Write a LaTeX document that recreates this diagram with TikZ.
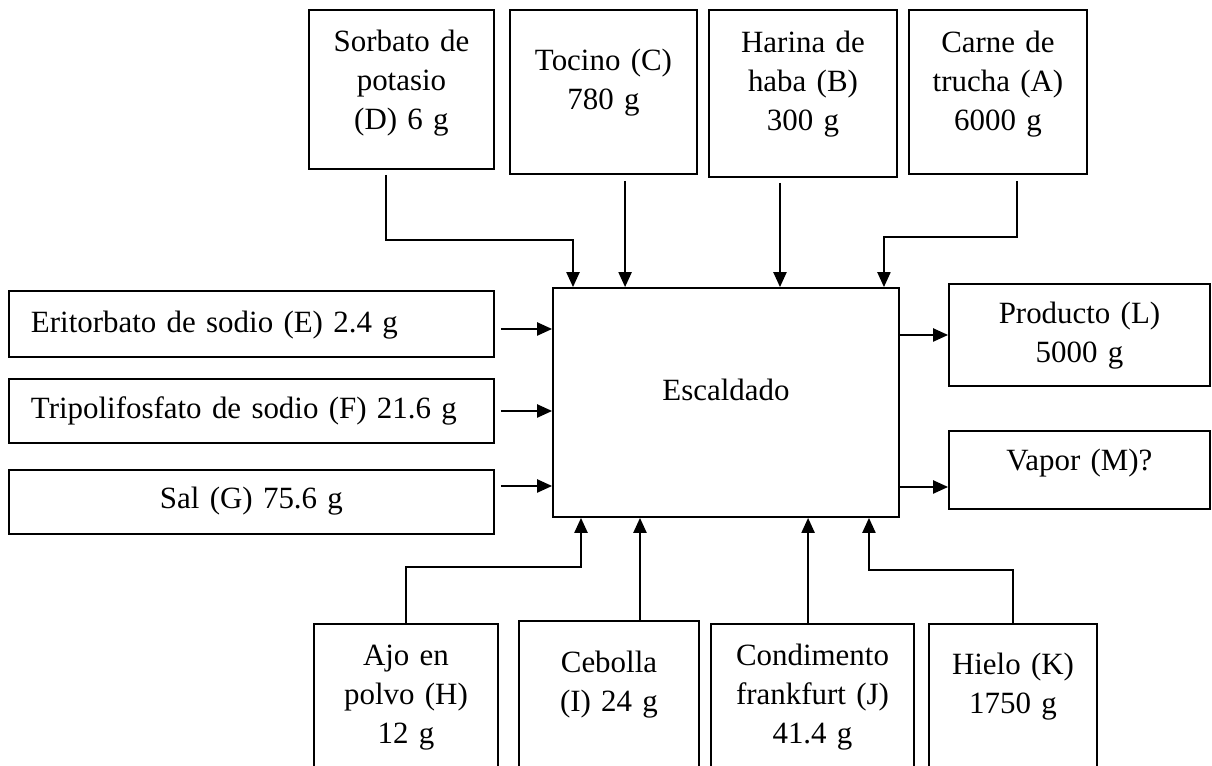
\documentclass[tikz,border=0pt]{standalone}
\usepackage{fontspec}
\setmainfont{Liberation Serif}
\usetikzlibrary{arrows.meta}

\begin{document}
\begin{tikzpicture}[
    font=\fontsize{22}{27.5}\selectfont
]
\tikzset{
    caja/.style = {draw=black, line width=1.4pt, inner xsep=0pt, inner ysep=0pt, anchor=north west, align=center},
    cajal/.style = {caja, inner xsep=0.55cm, text width=11.025cm},
    flecha/.style = {-{Triangle[length=0.37cm,width=0.33cm]}, line width=0.9pt}
}
\useasboundingbox (0,0) rectangle (30.3,-19.125);
\clip (0,0) rectangle (30.3,-19.125);
% proceso central
\node[caja, text width=8.65cm, text height=2.825cm, text depth=2.9cm] at (13.8,-7.175) (esc) {Escaldado};
% entradas de arriba
\node[caja, text width=4.625cm, text height=1.05cm, text depth=2.925cm] at (7.7,-0.225) (sorbato) {Sorbato de\\potasio\\(D) 6 g};
\node[caja, text width=4.675cm, text height=1.525cm, text depth=2.575cm] at (12.725,-0.225) (tocino) {Tocino (C)\\780 g};
\node[caja, text width=4.7cm, text height=1.075cm, text depth=3.1cm] at (17.7,-0.225) (harina) {Harina de\\haba (B)\\300 g};
\node[caja, text width=4.45cm, text height=1.075cm, text depth=3.025cm] at (22.7,-0.225) (carne) {Carne de\\trucha (A)\\6000 g};
% entradas de la izquierda
\node[cajal, align=left, text height=1.05cm, text depth=0.6cm] at (0.2,-7.25) (eritorbato) {Eritorbato de sodio (E) 2.4 g};
\node[cajal, align=left, text height=1.0cm, text depth=0.6cm] at (0.2,-9.45) (tripoli) {Tripolifosfato de sodio (F) 21.6 g};
\node[cajal, text height=0.975cm, text depth=0.625cm] at (0.2,-11.725) (sal) {Sal (G) 75.6 g};
% salidas
\node[caja, text width=6.525cm, text height=1.0cm, text depth=1.55cm] at (23.7,-7.075) (producto) {Producto (L)\\5000 g};
\node[caja, text width=6.525cm, text height=1.0cm, text depth=0.95cm] at (23.7,-10.75) (vapor) {Vapor (M)?};
% entradas de abajo
\node[caja, text width=4.6cm, text height=1.05cm, text depth=2.525cm] at (7.825,-15.575) (ajo) {Ajo en\\polvo (H)\\12 g};
\node[caja, text width=4.5cm, text height=1.3cm, text depth=2.35cm] at (12.95,-15.5) (cebolla) {Cebolla\\(I) 24 g};
\node[caja, text width=5.075cm, text height=1.05cm, text depth=2.525cm] at (17.75,-15.575) (condimento) {Condimento\\frankfurt (J)\\41.4 g};
\node[caja, text width=4.2cm, text height=1.275cm, text depth=2.3cm] at (23.2,-15.575) (hielo) {Hielo (K)\\1750 g};
% flechas de arriba
\draw[flecha] ([xshift=-0.39cm,yshift=-0.125cm]sorbato.south) -- ++(0,-1.625) -| ([xshift=0.525cm]esc.north west);
\draw[flecha] ([xshift=0.54cm,yshift=-0.15cm]tocino.south) coordinate (c0) -- (c0 |- esc.north);
\draw[flecha] ([xshift=-0.575cm,yshift=-0.125cm]harina.south) coordinate (b0) -- (b0 |- esc.north);
\draw[flecha] ([xshift=0.475cm,yshift=-0.15cm]carne.south) -- ++(0,-1.4) -| ([xshift=-0.4cm]esc.north east);
% flechas de la izquierda
\draw[flecha] ([xshift=0.15cm,yshift=-0.125cm]eritorbato.east) coordinate (e0) -- (e0 -| esc.west);
\draw[flecha] ([xshift=0.15cm]tripoli.east) coordinate (f0) -- (f0 -| esc.west);
\draw[flecha] ([xshift=0.15cm,yshift=0.4cm]sal.east) coordinate (g0) -- (g0 -| esc.west);
% salidas
\draw[flecha] (producto.west -| esc.east) -- (producto.west);
\coordinate (m0) at ([yshift=-0.425cm]vapor.west);
\draw[flecha] (m0 -| esc.east) -- (m0);
% flechas de abajo
\draw[flecha] (ajo.north) -- ++(0,1.4) -| ([xshift=0.725cm]esc.south west);
\draw[flecha] ([xshift=0.775cm]cebolla.north) coordinate (i0) -- (i0 |- esc.south);
\draw[flecha] ([xshift=-0.11cm]condimento.north) coordinate (j0) -- (j0 |- esc.south);
\draw[flecha] (hielo.north) -- ++(0,1.325) -| ([xshift=-0.775cm]esc.south east);
\end{tikzpicture}
\end{document}
